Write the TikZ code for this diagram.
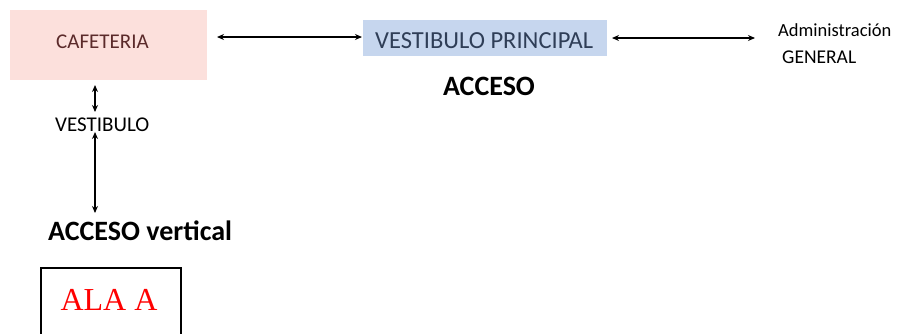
\documentclass[tikz,border=0pt]{standalone}
\usepackage{fontspec}
\setmainfont{Carlito}
\newfontfamily\timesfont{Liberation Serif}
\usetikzlibrary{arrows.meta}
\definecolor{cafefill}{HTML}{FCE0DC}
\definecolor{cafetext}{HTML}{5B2A2A}
\definecolor{vpfill}{HTML}{C6D6EE}
\definecolor{vptext}{HTML}{2F3E57}
\definecolor{alared}{HTML}{FF0000}
\tikzset{
  dbl/.style={line width=1.2pt,{Stealth[length=7pt,width=6pt]}-{Stealth[length=7pt,width=6pt]}},
  txt/.style={inner sep=0pt,anchor=base west},
}
\begin{document}
\begin{tikzpicture}[x=1pt,y=-1pt]
\useasboundingbox[fill=white] (0,0) rectangle (908,333);
% boxes
\node[fill=cafefill,minimum width=197pt,minimum height=70pt,inner sep=0pt] (caf) at (108.5,45) {};
\node[txt,text=cafetext,font=\fontsize{21}{25}\selectfont] (caft) at (56,48) {CAFETERIA};
\node[fill=vpfill,minimum width=244pt,minimum height=36pt,inner sep=0pt] (vp) at (485,38) {};
\node[txt,text=vptext,font=\fontsize{24.5}{29}\selectfont] (vpt) at (375,48) {VESTIBULO PRINCIPAL};
\node[txt,font=\fontsize{18.5}{22}\selectfont] (adm1) at (778,36) {Administración};
\node[txt,font=\fontsize{19.5}{23}\selectfont] (adm2) at (782,63) {GENERAL};
\node[inner sep=0pt,anchor=base,font=\bfseries\fontsize{28}{33}\selectfont] (acc) at (489,95) {ACCESO};
\node[txt,font=\fontsize{21}{25}\selectfont] (vest) at (55,131) {VESTIBULO};
\node[txt,font=\bfseries\fontsize{28}{33}\selectfont] (accv) at (48,240) {ACCESO vertical};
\node[draw,line width=1.2pt,minimum width=140pt,minimum height=80pt,inner sep=0pt] (ala) at (111,308) {};
\node[inner sep=0pt,anchor=base,text=alared,font=\timesfont\fontsize{32}{38}\selectfont] (alat) at (109,310) {ALA A};
% connectors
\coordinate (c1) at (217,37);
\coordinate (c2) at (362,37);
\draw[dbl] (c1) -- (c2);
\coordinate (c3) at (612,38);
\coordinate (c4) at (755,38);
\draw[dbl] (c3) -- (c4);
\coordinate (c5) at (95,85);
\coordinate (c6) at (95,112);
\draw[dbl] (c5) -- (c6);
\coordinate (c7) at (95,132);
\coordinate (c8) at (95,213);
\draw[dbl] (c7) -- (c8);
\end{tikzpicture}
\end{document}
